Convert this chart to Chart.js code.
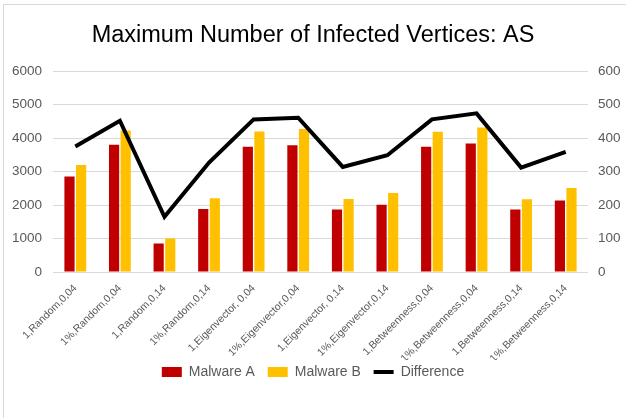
<!DOCTYPE html>
<html>
<head>
<meta charset="utf-8">
<script src="https://cdn.jsdelivr.net/npm/chart.js@4/dist/chart.umd.min.js"></script>
<style>
  html, body { margin: 0; padding: 0; background: #ffffff; }
  #wrap { width: 626px; height: 418px; position: relative; }
</style>
</head>
<body>
<div id="wrap"><canvas id="c" width="626" height="418"></canvas></div>
<script>
// Scenario labels: seed size, centrality measure, infection rate
const categories = [
  "1,Random,0,04", "1%,Random,0,04", "1,Random,0,14", "1%,Random,0,14",
  "1,Eigenvector, 0,04", "1%,Eigenvector,0,04", "1,Eigenvector, 0,14", "1%,Eigenvector,0,14",
  "1,Betweenness,0,04", "1%,Betweenness,0,04", "1,Betweenness,0,14", "1%,Betweenness,0,14"
];
const malwareA = [2850, 3800, 850, 1880, 3740, 3790, 1870, 2010, 3740, 3840, 1865, 2140];
const malwareB = [3200, 4230, 1000, 2200, 4200, 4270, 2180, 2360, 4190, 4320, 2175, 2510];
const difference = [375, 452, 165, 327, 456, 461, 314, 349, 456, 474, 312, 359];
const leftTicks = [0, 1000, 2000, 3000, 4000, 5000, 6000];
const rightTicks = [0, 100, 200, 300, 400, 500, 600];

const FONT = "'Liberation Sans', Arial, sans-serif";
const GREY = "#595959";

// White page with a thin frame along the top and left edges
const frame = {
  id: "frame",
  beforeDraw(chart) {
    const ctx = chart.ctx;
    ctx.save();
    ctx.fillStyle = "#ffffff";
    ctx.fillRect(0, 0, chart.width, chart.height);
    ctx.strokeStyle = "#d9d9d9";
    ctx.lineWidth = 1;
    ctx.strokeRect(3.5, 4.5, chart.width + 10, chart.height + 10);
    ctx.restore();
  }
};

new Chart(document.getElementById("c"), {
  type: "bar",
  data: {
    labels: categories,
    datasets: [
      { label: "Malware A", data: malwareA, backgroundColor: "#c00000", yAxisID: "y",
        categoryPercentage: 0.52, barPercentage: 0.88, order: 2 },
      { label: "Malware B", data: malwareB, backgroundColor: "#ffc000", yAxisID: "y",
        categoryPercentage: 0.52, barPercentage: 0.88, order: 2 },
      { type: "line", label: "Difference", data: difference, yAxisID: "y1",
        borderColor: "#000000", backgroundColor: "#000000", borderWidth: 4,
        pointRadius: 0, tension: 0, order: 1 }
    ]
  },
  options: {
    responsive: false,
    animation: false,
    layout: { padding: { top: 3, bottom: 29, left: 0, right: 0 } },
    plugins: {
      title: {
        display: true,
        text: "Maximum Number of Infected Vertices: AS",
        color: "#000000",
        font: { family: FONT, size: 23.5, weight: "normal" },
        padding: { top: 18, bottom: 22 }
      },
      legend: {
        position: "bottom",
        labels: {
          color: GREY,
          font: { family: FONT, size: 14 },
          usePointStyle: true,
          pointStyleWidth: 20,
          boxHeight: 10,
          padding: 5,
          sort: (a, b) => a.datasetIndex - b.datasetIndex,
          generateLabels(chart) {
            const items = Chart.defaults.plugins.legend.labels.generateLabels(chart);
            items.forEach(it => {
              if (it.text === "Difference") {
                it.pointStyle = "line";
                it.strokeStyle = "#000000";
                it.lineWidth = 4;
              } else {
                it.pointStyle = "rect";
                it.lineWidth = 0;
                it.text = it.text + "  ";
              }
            });
            return items;
          }
        }
      },
      tooltip: { enabled: false }
    },
    scales: {
      x: {
        grid: { display: false },
        border: { display: false },
        ticks: {
          color: GREY,
          font: { family: FONT, size: 10.5 },
          minRotation: 45,
          maxRotation: 45,
          autoSkip: false,
          padding: 2
        },
        afterFit(scale) { scale.height = 88; }
      },
      y: {
        position: "left",
        min: 0, max: 6000,
        afterBuildTicks(scale) { scale.ticks = leftTicks.map(v => ({ value: v })); },
        grid: { color: "#d9d9d9", lineWidth: 1, drawTicks: false },
        border: { display: false },
        ticks: { color: GREY, font: { family: FONT, size: 13.5 }, padding: 11,
                 callback: v => String(v) },
        afterFit(scale) { scale.width = 53; }
      },
      y1: {
        position: "right",
        min: 0, max: 600,
        afterBuildTicks(scale) { scale.ticks = rightTicks.map(v => ({ value: v })); },
        grid: { display: false, drawTicks: false },
        border: { display: false },
        ticks: { color: GREY, font: { family: FONT, size: 13.5 }, padding: 10,
                 callback: v => String(v) },
        afterFit(scale) { scale.width = 38; }
      }
    }
  },
  plugins: [frame]
});
</script>
</body>
</html>
